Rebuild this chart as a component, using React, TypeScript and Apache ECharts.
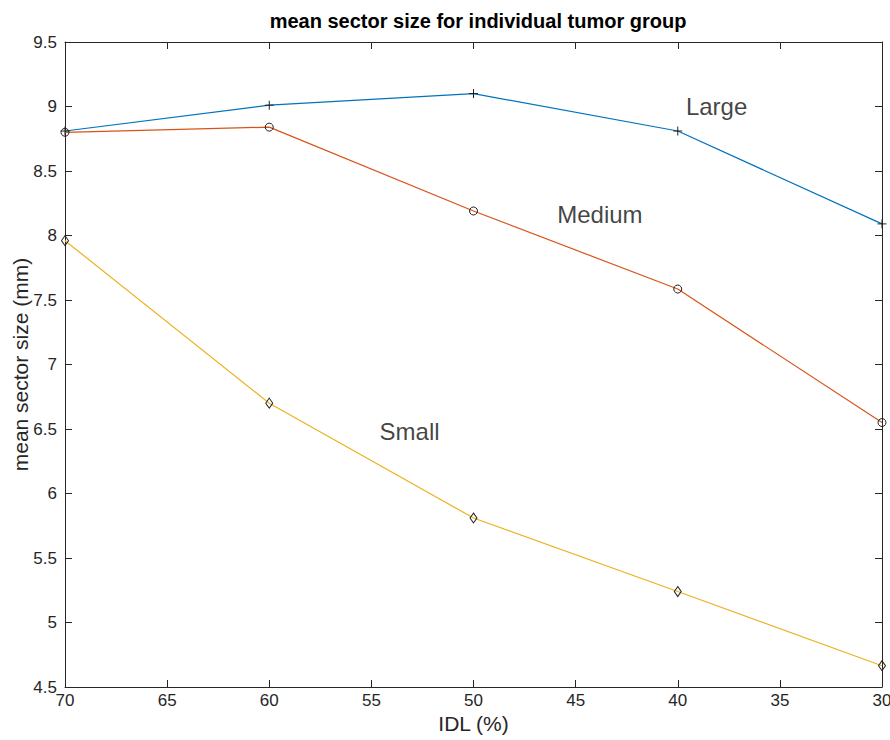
import React, { useEffect, useRef } from "react";
import * as echarts from "echarts";

const idl = [70, 60, 50, 40, 30];
const largeValues = [8.81, 9.01, 9.1, 8.81, 8.09];
const mediumValues = [8.8, 8.84, 8.19, 7.585, 6.55];
const smallValues = [7.96, 6.7, 5.81, 5.24, 4.665];
const annotations = [
  { text: "Large", x: 39.6, y: 9.0 },
  { text: "Medium", x: 45.9, y: 8.16 },
  { text: "Small", x: 54.6, y: 6.48 },
];
const xTicks = [70, 65, 60, 55, 50, 45, 40, 35, 30];
const yTicks = [4.5, 5, 5.5, 6, 6.5, 7, 7.5, 8, 8.5, 9, 9.5];

const FONT = "Liberation Sans, Arial, Helvetica, sans-serif";
const AX = "#262626";

export default function App() {
  const ref = useRef<HTMLDivElement>(null);
  useEffect(() => {
    if (!ref.current) return;
    const chart = echarts.init(ref.current, undefined, { renderer: "svg" });
    const pair = (vals: number[]) => idl.map((x, i) => [x, vals[i]]);
    const axisCommon = {
      type: "value",
      axisLine: { show: true, lineStyle: { color: AX, width: 1 } },
      axisTick: { show: true, inside: true, length: 7, lineStyle: { color: AX } },
      splitLine: { show: false },
    };
    const mk = (name: string, vals: number[], color: string, symbol: string, size: any) => ({
      name,
      type: "line",
      data: pair(vals),
      symbol,
      symbolSize: size,
      showAllSymbol: true,
      clip: false,
      lineStyle: { color, width: 1.2 },
      itemStyle: { color: "transparent", borderColor: "#222", borderWidth: 1 },
      z: 3,
    });
    chart.setOption({
      animation: false,
      backgroundColor: "#fff",
      title: {
        text: "mean sector size for individual tumor group",
        left: 473,
        textAlign: "center",
        top: 6,
        textStyle: { fontFamily: FONT, fontSize: 20, fontWeight: "bold", color: "#000" },
      },
      grid: { left: 65, right: 8, top: 42, bottom: 53, containLabel: false, outerBoundsMode: "none" },
      xAxis: [
        {
          ...axisCommon,
          min: 30,
          max: 70,
          interval: 5,
          inverse: true,
          position: "bottom",
          name: "IDL (%)",
          nameLocation: "middle",
          nameGap: 26,
          nameMoveOverlap: false,
          nameTextStyle: { fontFamily: FONT, fontSize: 21, color: AX },
          axisLabel: {
            fontFamily: FONT,
            fontSize: 17,
            color: AX,
            margin: 5,
            formatter: (v: number) => (xTicks.includes(v) ? String(v) : ""),
          },
        },
        {
          ...axisCommon,
          min: 30,
          max: 70,
          interval: 5,
          inverse: true,
          position: "top",
          axisLabel: { show: false },
        },
      ],
      yAxis: [
        {
          ...axisCommon,
          min: 4.5,
          max: 9.5,
          interval: 0.5,
          position: "left",
          name: "mean sector size (mm)",
          nameLocation: "middle",
          nameGap: 34,
          nameMoveOverlap: false,
          nameTextStyle: { fontFamily: FONT, fontSize: 21, color: AX },
          axisLabel: {
            fontFamily: FONT,
            fontSize: 17,
            color: AX,
            margin: 8,
            formatter: (v: number) => (yTicks.some((t) => Math.abs(t - v) < 1e-6) ? String(v) : ""),
          },
        },
        {
          ...axisCommon,
          min: 4.5,
          max: 9.5,
          interval: 0.5,
          position: "right",
          axisLabel: { show: false },
        },
      ],
      series: [
        mk("Large", largeValues, "#0072BD", "path://M5,0 L5,10 M0,5 L10,5", 9),
        mk("Medium", mediumValues, "#D95319", "circle", 8),
        mk("Small", smallValues, "#EDB120", "diamond", [7, 10]),
        {
          type: "scatter",
          data: annotations.map((a) => ({ value: [a.x, a.y], name: a.text })),
          symbolSize: 0,
          silent: true,
          label: {
            show: true,
            position: "right",
            distance: 0,
            formatter: (p: any) => p.name,
            fontFamily: FONT,
            fontSize: 24,
            color: "#111",
          },
          z: 4,
        },
      ],
    });
    return () => chart.dispose();
  }, []);
  return <div ref={ref} style={{ position: "fixed", left: 0, top: 0, width: 890, height: 740 }} />;
}
